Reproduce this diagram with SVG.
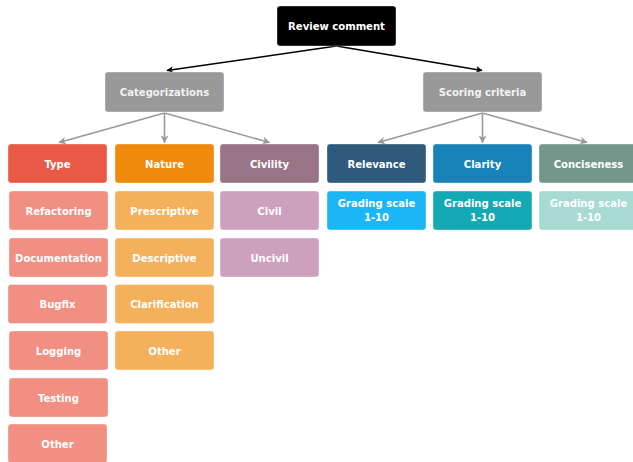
<svg xmlns="http://www.w3.org/2000/svg" width="633" height="462" viewBox="0 0 633 462">
<defs>
<marker id="ab" viewBox="0 0 10 10" refX="9" refY="5" markerWidth="7" markerHeight="7" markerUnits="userSpaceOnUse" orient="auto"><path d="M0,0 L10,5 L0,10 L3,5 z" fill="#000"/></marker>
<marker id="ag" viewBox="0 0 10 10" refX="9" refY="5" markerWidth="8" markerHeight="8" markerUnits="userSpaceOnUse" orient="auto"><path d="M0,0 L10,5 L0,10 L3,5 z" fill="#999"/></marker>
</defs>
<style>
rect{stroke:#ffffff;stroke-opacity:0.35;stroke-width:1}
text{font-family:"DejaVu Sans Condensed","DejaVu Sans",Verdana,sans-serif;font-weight:bold;font-size:11.2px;fill:#fff;text-anchor:middle}
.dk{fill:#f2f2f2}
.cb{stroke:#000;stroke-width:1.5;fill:none}
.cg{stroke:#999;stroke-width:1.6;fill:none}
</style>
<rect x="0" y="0" width="633" height="462" fill="#fff" style="stroke:none"/>
<g id="connectors">
<path class="cb" d="M336.5,46 L167,70.5" marker-end="url(#ab)"/>
<path class="cb" d="M336.5,46 L482,70.5" marker-end="url(#ab)"/>
<path class="cg" d="M164.5,113 L59,142.5" marker-end="url(#ag)"/>
<path class="cg" d="M164.5,113 L164.5,142.5" marker-end="url(#ag)"/>
<path class="cg" d="M164.5,113 L269.5,142.5" marker-end="url(#ag)"/>
<path class="cg" d="M482.5,113 L378,142.5" marker-end="url(#ag)"/>
<path class="cg" d="M482.5,113 L482.5,142.5" marker-end="url(#ag)"/>
<path class="cg" d="M482.5,113 L587,142.5" marker-end="url(#ag)"/>
</g>
<g id="review"><rect x="277" y="6" width="119" height="40" rx="3" fill="#000"/><text x="336.5" y="30">Review comment</text></g>
<g id="categorizations"><rect x="105" y="72" width="119" height="40" rx="3" fill="#999"/><text class="dk" x="164.5" y="96">Categorizations</text></g>
<g id="scoring"><rect x="423" y="72" width="119" height="40" rx="3" fill="#999"/><text class="dk" x="482.5" y="96">Scoring criteria</text></g>

<g id="type"><rect x="8" y="144" width="99" height="39" rx="3" fill="#e85a45"/><text x="57.5" y="168">Type</text></g>
<g id="nature"><rect x="115" y="144" width="99" height="39" rx="3" fill="#ef8a0c"/><text x="164.5" y="168">Nature</text></g>
<g id="civility"><rect x="220" y="144" width="99" height="39" rx="3" fill="#977486"/><text x="269.5" y="168">Civility</text></g>
<g id="relevance"><rect x="327" y="144" width="99" height="39" rx="3" fill="#2f5a7c"/><text x="376.5" y="168">Relevance</text></g>
<g id="clarity"><rect x="433" y="144" width="99" height="39" rx="3" fill="#1783b9"/><text x="482.5" y="168">Clarity</text></g>
<g id="conciseness"><rect x="539" y="144" width="99" height="39" rx="3" fill="#73978b"/><text x="588.5" y="168">Conciseness</text></g>

<g id="refactoring"><rect x="9" y="191" width="99" height="39" rx="3" fill="#f08f82"/><text x="58.5" y="214.5">Refactoring</text></g>
<g id="documentation"><rect x="9" y="238" width="99" height="39" rx="3" fill="#f08f82"/><text x="58.5" y="261.5">Documentation</text></g>
<g id="bugfix"><rect x="8" y="284.5" width="99" height="39" rx="3" fill="#f08f82"/><text x="57.5" y="308">Bugfix</text></g>
<g id="logging"><rect x="9" y="331" width="99" height="39" rx="3" fill="#f08f82"/><text x="58.5" y="354.5">Logging</text></g>
<g id="testing"><rect x="9" y="378" width="99" height="39" rx="3" fill="#f08f82"/><text x="58.5" y="401.5">Testing</text></g>
<g id="type-other"><rect x="8" y="424" width="99" height="39" rx="3" fill="#f08f82"/><text x="57.5" y="447.5">Other</text></g>

<g id="prescriptive"><rect x="115" y="191" width="99" height="39" rx="3" fill="#f4b05b"/><text x="164.5" y="214.5">Prescriptive</text></g>
<g id="descriptive"><rect x="115" y="238" width="99" height="39" rx="3" fill="#f4b05b"/><text x="164.5" y="261.5">Descriptive</text></g>
<g id="clarification"><rect x="115" y="284.5" width="99" height="39" rx="3" fill="#f4b05b"/><text x="164.5" y="308">Clarification</text></g>
<g id="nature-other"><rect x="115" y="331" width="99" height="39" rx="3" fill="#f4b05b"/><text x="164.5" y="354.5">Other</text></g>

<g id="civil"><rect x="220" y="191" width="99" height="39" rx="3" fill="#cda0bd"/><text x="269.5" y="214.5">Civil</text></g>
<g id="uncivil"><rect x="220" y="238" width="99" height="39" rx="3" fill="#cda0bd"/><text x="269.5" y="261.5">Uncivil</text></g>

<g id="grading-relevance"><rect x="327" y="191" width="99" height="39" rx="3" fill="#1bb6f6"/><text x="376.5" y="207">Grading scale</text><text x="376.5" y="220.5">1-10</text></g>
<g id="grading-clarity"><rect x="433" y="191" width="99" height="39" rx="3" fill="#14a9b5"/><text x="482.5" y="207">Grading scale</text><text x="482.5" y="220.5">1-10</text></g>
<g id="grading-conciseness"><rect x="539" y="191" width="99" height="39" rx="3" fill="#a6dad3"/><text x="588.5" y="207">Grading scale</text><text x="588.5" y="220.5">1-10</text></g>
</svg>
